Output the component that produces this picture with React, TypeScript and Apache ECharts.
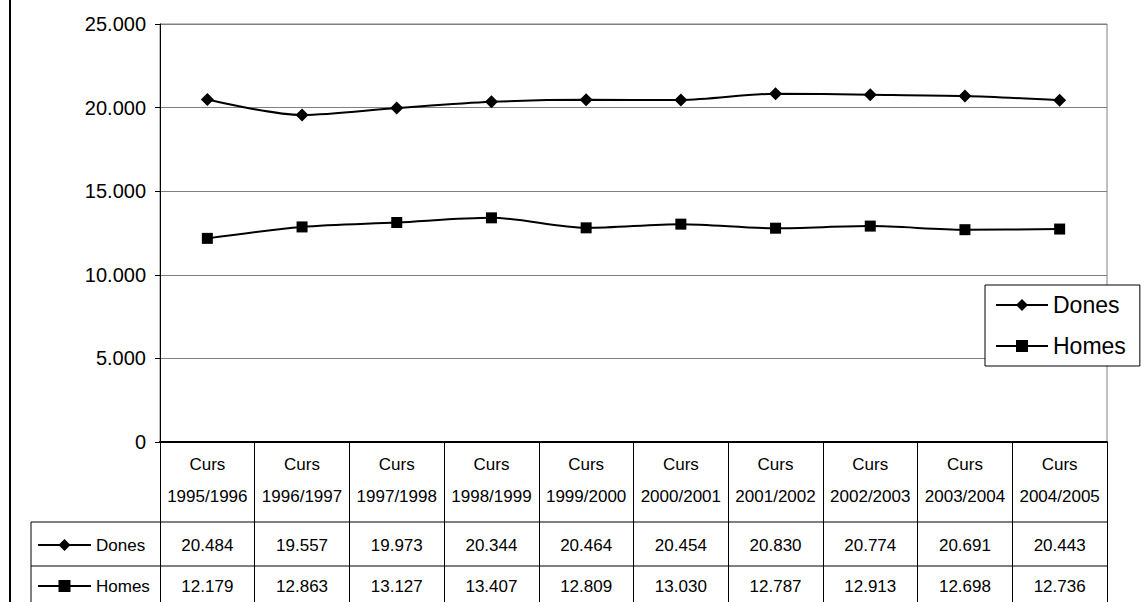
import React, { useEffect, useRef } from 'react';
import * as echarts from 'echarts';

const categories = ['1995/1996', '1996/1997', '1997/1998', '1998/1999', '1999/2000', '2000/2001', '2001/2002', '2002/2003', '2003/2004', '2004/2005'];
const dones = [20484, 19557, 19973, 20344, 20464, 20454, 20830, 20774, 20691, 20443];
const homes = [12179, 12863, 13127, 13407, 12809, 13030, 12787, 12913, 12698, 12736];
const yMin = 0;
const yMax = 25000;
const yStep = 5000;

const fmt = (v: number) => {
  if (v === 0) return '0';
  const th = Math.floor(v / 1000);
  const rest = String(Math.round(v % 1000)).padStart(3, '0');
  return th + '.' + rest;
};

const W = 1147;
const H = 602;
const L = 160;
const R = 1107;
const T = 24;
const B = 442;
const TABLE_FONT = "'Liberation Sans', Arial, sans-serif";
const SANS = "'Liberation Sans', Arial, sans-serif";

export default function App() {
  const ref = useRef<HTMLDivElement>(null);
  useEffect(() => {
    if (!ref.current) return;
    const chart = echarts.init(ref.current, null, { renderer: 'svg' });
    const tableLabel = {
      fontFamily: TABLE_FONT,
      fontSize: 17,
      color: '#000',
      lineHeight: 20,
      interval: 0,
    };
    chart.setOption({
      animation: false,
      backgroundColor: '#fff',
      grid: {
        left: L,
        right: W - R,
        top: T,
        bottom: H - B,
        show: true,
        borderColor: '#808080',
        borderWidth: 1,
        backgroundColor: '#fff',
      },
      legend: [
        {
          data: ['Dones', 'Homes'],
          orient: 'vertical',
          left: 985,
          top: 285,
          padding: [7, 14, 7, 10],
          itemGap: 15,
          itemWidth: 52,
          itemHeight: 15,
          backgroundColor: '#fff',
          borderColor: '#000',
          borderWidth: 1,
          borderRadius: 0,
          selectedMode: false,
          textStyle: { fontFamily: SANS, fontSize: 23, color: '#000', lineHeight: 26 },
        },
        {
          data: ['Dones', 'Homes'],
          orient: 'vertical',
          left: 37,
          top: 535,
          padding: 0,
          itemGap: 21,
          itemWidth: 53,
          itemHeight: 15,
          selectedMode: false,
          textStyle: { fontFamily: TABLE_FONT, fontSize: 17, color: '#000', lineHeight: 20 },
        },
      ],
      xAxis: [
        {
          type: 'category',
          data: categories,
          position: 'bottom',
          boundaryGap: true,
          axisLine: { show: true, lineStyle: { color: '#000', width: 2 } },
          axisTick: { show: true, length: H - B, lineStyle: { color: '#000', width: 1 } },
          axisLabel: {
            ...tableLabel,
            lineHeight: 32,
            margin: 6,
            formatter: (v: string) => 'Curs\n' + v,
          },
          splitLine: { show: false },
        },
        {
          type: 'category',
          data: categories,
          position: 'bottom',
          boundaryGap: true,
          axisLine: { show: false },
          axisTick: { show: false },
          axisLabel: {
            ...tableLabel,
            margin: 93,
            formatter: (_v: string, i: number) => fmt(dones[i]),
          },
          splitLine: { show: false },
        },
        {
          type: 'category',
          data: categories,
          position: 'bottom',
          boundaryGap: true,
          axisLine: { show: false },
          axisTick: { show: false },
          axisLabel: {
            ...tableLabel,
            margin: 134,
            formatter: (_v: string, i: number) => fmt(homes[i]),
          },
          splitLine: { show: false },
        },
      ],
      yAxis: {
        type: 'value',
        min: yMin,
        max: yMax,
        interval: yStep,
        axisLine: { show: true, lineStyle: { color: '#000', width: 1 } },
        axisTick: { show: true, length: 5, lineStyle: { color: '#000' } },
        axisLabel: {
          fontFamily: SANS,
          fontSize: 20,
          color: '#000',
          margin: 14,
          formatter: (v: number) => fmt(v),
        },
        splitLine: { show: true, lineStyle: { color: '#808080', width: 1 } },
      },
      series: [
        {
          name: 'Dones',
          type: 'line',
          data: dones,
          smooth: 0.3,
          symbol: 'diamond',
          symbolSize: 13,
          lineStyle: { color: '#000', width: 2 },
          itemStyle: { color: '#000' },
        },
        {
          name: 'Homes',
          type: 'line',
          data: homes,
          smooth: 0.3,
          symbol: 'rect',
          symbolSize: 11,
          lineStyle: { color: '#000', width: 2 },
          itemStyle: { color: '#000' },
        },
      ],
      graphic: [
        { type: 'line', shape: { x1: 10, y1: 0, x2: 10, y2: H }, style: { stroke: '#000', lineWidth: 2 } },
        { type: 'line', shape: { x1: 31, y1: 522, x2: R, y2: 522 }, style: { stroke: '#000', lineWidth: 1 } },
        { type: 'line', shape: { x1: 31, y1: 566, x2: R, y2: 566 }, style: { stroke: '#000', lineWidth: 1 } },
        { type: 'line', shape: { x1: 31, y1: 522, x2: 31, y2: H }, style: { stroke: '#000', lineWidth: 1 } },
      ],
    });
    return () => chart.dispose();
  }, []);
  return <div ref={ref} style={{ position: 'absolute', left: 0, top: 0, width: W, height: H }} />;
}
